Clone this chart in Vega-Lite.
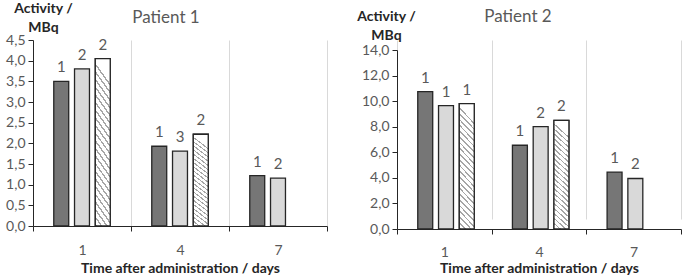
{
  "$schema": "https://vega.github.io/schema/vega-lite/v6.json",
  "padding": {"left": 5, "right": 0, "top": 1, "bottom": 0},
  "background": "white",
  "config": {"view": {"stroke": null}, "font": "Lato"},
  "data": {"values": [
    {"panel": 1, "day": 1, "series": 1, "value": 3.5, "n": "1"},
    {"panel": 1, "day": 1, "series": 2, "value": 3.8, "n": "2"},
    {"panel": 1, "day": 1, "series": 3, "value": 4.05, "n": "2"},
    {"panel": 1, "day": 4, "series": 1, "value": 1.93, "n": "1"},
    {"panel": 1, "day": 4, "series": 2, "value": 1.81, "n": "3"},
    {"panel": 1, "day": 4, "series": 3, "value": 2.22, "n": "2"},
    {"panel": 1, "day": 7, "series": 1, "value": 1.22, "n": "1"},
    {"panel": 1, "day": 7, "series": 2, "value": 1.16, "n": "2"},
    {"panel": 2, "day": 1, "series": 1, "value": 10.75, "n": "1"},
    {"panel": 2, "day": 1, "series": 2, "value": 9.65, "n": "1"},
    {"panel": 2, "day": 1, "series": 3, "value": 9.8, "n": "1"},
    {"panel": 2, "day": 4, "series": 1, "value": 6.55, "n": "1"},
    {"panel": 2, "day": 4, "series": 2, "value": 8.0, "n": "2"},
    {"panel": 2, "day": 4, "series": 3, "value": 8.5, "n": "2"},
    {"panel": 2, "day": 7, "series": 1, "value": 4.45, "n": "1"},
    {"panel": 2, "day": 7, "series": 2, "value": 3.95, "n": "2"}
  ]},
  "spacing": 28,
  "hconcat": [
    {
      "width": 294, "height": 186,
      "title": {"text": "Patient 1", "frame": "group", "offset": -26, "dx": -14, "fontSize": 17, "fontWeight": "normal", "color": "#595959", "font": "Lato"},
      "transform": [{"filter": "datum.panel == 1"}],
      "encoding": {
        "x": {"field": "day", "type": "ordinal", "sort": [1, 4, 7],
          "scale": {"paddingInner": 0, "paddingOuter": 0},
          "axis": {"title": "Time after administration / days", "titleFontWeight": "bold", "titleFontSize": 14, "titleColor": "#262626", "titleFont": "Lato", "titlePadding": 4,
            "labelAngle": 0, "labelFontSize": 14, "labelColor": "#595959", "labelFont": "Lato", "labelPadding": 12,
            "tickBand": "extent", "grid": true, "gridColor": "#d9d9d9", "domainColor": "#262626", "tickColor": "#262626", "tickSize": 5}},
        "xOffset": {"field": "series", "type": "ordinal", "scale": {"domain": [1, 2, 3], "paddingInner": 0.28, "paddingOuter": 1.0}},
        "y": {"field": "value", "type": "quantitative", "scale": {"domain": [0, 4.5]},
          "axis": {"values": [0, 0.5, 1, 1.5, 2, 2.5, 3, 3.5, 4, 4.5], "labelExpr": "replace(format(datum.value, '.1f'), '.', ',')",
            "grid": false, "domainColor": "#262626", "tickColor": "#262626", "tickSize": 5,
            "encode": {"ticks": {"update": {"x": {"value": 5}, "x2": {"value": -5}}}},
            "labelFontSize": 14, "labelColor": "#595959", "labelFont": "Lato", "labelPadding": 3,
            "title": ["Activity /", "MBq"], "titleAngle": 0, "titleAlign": "center", "titleBaseline": "top", "titleX": 10, "titleY": -39,
            "titleFontSize": 14, "titleFontWeight": "bold", "titleColor": "#262626", "titleFont": "Lato", "titleLineHeight": 19}}
      },
      "layer": [
        {"mark": {"type": "bar", "stroke": "#262626", "strokeWidth": 1.3},
         "encoding": {"fill": {"field": "series", "type": "nominal", "scale": {"domain": [1, 2, 3], "range": ["#767676", "#d9d9d9", "#ffffff"]}, "legend": null}}},
        {"transform": [{"filter": "datum.series == 3"}],
         "mark": {"type": "bar", "stroke": "#262626", "strokeWidth": 1.3,
           "fill": {"gradient": "linear", "x1": 0, "y1": 1, "x2": 0.125, "y2": 0, "stops": [
             {"offset": 0, "color": "#a6a6a6"}, {"offset": 0.014, "color": "#a6a6a6"}, {"offset": 0.014, "color": "#ffffff"}, {"offset": 0.045, "color": "#ffffff"},
             {"offset": 0.045, "color": "#a6a6a6"}, {"offset": 0.059, "color": "#a6a6a6"}, {"offset": 0.059, "color": "#ffffff"}, {"offset": 0.09, "color": "#ffffff"},
             {"offset": 0.09, "color": "#a6a6a6"}, {"offset": 0.104, "color": "#a6a6a6"}, {"offset": 0.104, "color": "#ffffff"}, {"offset": 0.135, "color": "#ffffff"},
             {"offset": 0.135, "color": "#a6a6a6"}, {"offset": 0.149, "color": "#a6a6a6"}, {"offset": 0.149, "color": "#ffffff"}, {"offset": 0.18, "color": "#ffffff"},
             {"offset": 0.18, "color": "#a6a6a6"}, {"offset": 0.194, "color": "#a6a6a6"}, {"offset": 0.194, "color": "#ffffff"}, {"offset": 0.225, "color": "#ffffff"},
             {"offset": 0.225, "color": "#a6a6a6"}, {"offset": 0.239, "color": "#a6a6a6"}, {"offset": 0.239, "color": "#ffffff"}, {"offset": 0.27, "color": "#ffffff"},
             {"offset": 0.27, "color": "#a6a6a6"}, {"offset": 0.284, "color": "#a6a6a6"}, {"offset": 0.284, "color": "#ffffff"}, {"offset": 0.315, "color": "#ffffff"},
             {"offset": 0.315, "color": "#a6a6a6"}, {"offset": 0.329, "color": "#a6a6a6"}, {"offset": 0.329, "color": "#ffffff"}, {"offset": 0.36, "color": "#ffffff"},
             {"offset": 0.36, "color": "#a6a6a6"}, {"offset": 0.374, "color": "#a6a6a6"}, {"offset": 0.374, "color": "#ffffff"}, {"offset": 0.405, "color": "#ffffff"},
             {"offset": 0.405, "color": "#a6a6a6"}, {"offset": 0.419, "color": "#a6a6a6"}, {"offset": 0.419, "color": "#ffffff"}, {"offset": 0.45, "color": "#ffffff"},
             {"offset": 0.45, "color": "#a6a6a6"}, {"offset": 0.464, "color": "#a6a6a6"}, {"offset": 0.464, "color": "#ffffff"}, {"offset": 0.495, "color": "#ffffff"},
             {"offset": 0.495, "color": "#a6a6a6"}, {"offset": 0.509, "color": "#a6a6a6"}, {"offset": 0.509, "color": "#ffffff"}, {"offset": 0.54, "color": "#ffffff"},
             {"offset": 0.54, "color": "#a6a6a6"}, {"offset": 0.554, "color": "#a6a6a6"}, {"offset": 0.554, "color": "#ffffff"}, {"offset": 0.585, "color": "#ffffff"},
             {"offset": 0.585, "color": "#a6a6a6"}, {"offset": 0.599, "color": "#a6a6a6"}, {"offset": 0.599, "color": "#ffffff"}, {"offset": 0.63, "color": "#ffffff"},
             {"offset": 0.63, "color": "#a6a6a6"}, {"offset": 0.644, "color": "#a6a6a6"}, {"offset": 0.644, "color": "#ffffff"}, {"offset": 0.675, "color": "#ffffff"},
             {"offset": 0.675, "color": "#a6a6a6"}, {"offset": 0.689, "color": "#a6a6a6"}, {"offset": 0.689, "color": "#ffffff"}, {"offset": 0.72, "color": "#ffffff"},
             {"offset": 0.72, "color": "#a6a6a6"}, {"offset": 0.734, "color": "#a6a6a6"}, {"offset": 0.734, "color": "#ffffff"}, {"offset": 0.765, "color": "#ffffff"},
             {"offset": 0.765, "color": "#a6a6a6"}, {"offset": 0.779, "color": "#a6a6a6"}, {"offset": 0.779, "color": "#ffffff"}, {"offset": 0.81, "color": "#ffffff"},
             {"offset": 0.81, "color": "#a6a6a6"}, {"offset": 0.824, "color": "#a6a6a6"}, {"offset": 0.824, "color": "#ffffff"}, {"offset": 0.855, "color": "#ffffff"},
             {"offset": 0.855, "color": "#a6a6a6"}, {"offset": 0.869, "color": "#a6a6a6"}, {"offset": 0.869, "color": "#ffffff"}, {"offset": 0.9, "color": "#ffffff"},
             {"offset": 0.9, "color": "#a6a6a6"}, {"offset": 0.914, "color": "#a6a6a6"}, {"offset": 0.914, "color": "#ffffff"}, {"offset": 0.945, "color": "#ffffff"},
             {"offset": 0.945, "color": "#a6a6a6"}, {"offset": 0.959, "color": "#a6a6a6"}, {"offset": 0.959, "color": "#ffffff"}, {"offset": 1, "color": "#ffffff"}
           ]}}},
        {"mark": {"type": "text", "baseline": "bottom", "dy": -6, "fontSize": 15, "color": "#595959", "font": "Lato"},
         "encoding": {"text": {"field": "n", "type": "nominal"}}}
      ]
    },
    {
      "width": 284, "height": 189,
      "title": {"text": "Patient 2", "frame": "group", "offset": -17, "dx": -21, "fontSize": 17, "fontWeight": "normal", "color": "#595959", "font": "Lato"},
      "transform": [{"filter": "datum.panel == 2"}],
      "encoding": {
        "x": {"field": "day", "type": "ordinal", "sort": [1, 4, 7],
          "scale": {"paddingInner": 0, "paddingOuter": 0},
          "axis": {"title": "Time after administration / days", "titleFontWeight": "bold", "titleFontSize": 14, "titleColor": "#262626", "titleFont": "Lato", "titlePadding": 2,
            "labelAngle": 0, "labelFontSize": 14, "labelColor": "#595959", "labelFont": "Lato", "labelPadding": 11,
            "tickBand": "extent", "grid": true, "gridColor": "#d9d9d9", "domainColor": "#262626", "tickColor": "#262626", "tickSize": 5}},
        "xOffset": {"field": "series", "type": "ordinal", "scale": {"domain": [1, 2, 3], "paddingInner": 0.28, "paddingOuter": 1.0}},
        "y": {"field": "value", "type": "quantitative", "scale": {"domain": [0, 14], "range": [189, 10]},
          "axis": {"values": [0, 2, 4, 6, 8, 10, 12, 14], "labelExpr": "replace(format(datum.value, '.1f'), '.', ',')",
            "grid": false, "domainColor": "#262626", "tickColor": "#262626", "tickSize": 5,
            "encode": {"ticks": {"update": {"x": {"value": 5}, "x2": {"value": -5}}}},
            "labelFontSize": 14, "labelColor": "#595959", "labelFont": "Lato", "labelPadding": 3,
            "title": ["Activity /", "MBq"], "titleAngle": 0, "titleAlign": "center", "titleBaseline": "top", "titleX": -11, "titleY": -31,
            "titleFontSize": 14, "titleFontWeight": "bold", "titleColor": "#262626", "titleFont": "Lato", "titleLineHeight": 19}}
      },
      "layer": [
        {"mark": {"type": "bar", "stroke": "#262626", "strokeWidth": 1.3},
         "encoding": {"fill": {"field": "series", "type": "nominal", "scale": {"domain": [1, 2, 3], "range": ["#767676", "#d9d9d9", "#ffffff"]}, "legend": null}}},
        {"transform": [{"filter": "datum.series == 3"}],
         "mark": {"type": "bar", "stroke": "#262626", "strokeWidth": 1.3,
           "fill": {"gradient": "linear", "x1": 0, "y1": 1, "x2": 0.125, "y2": 0, "stops": [
             {"offset": 0, "color": "#a6a6a6"}, {"offset": 0.014, "color": "#a6a6a6"}, {"offset": 0.014, "color": "#ffffff"}, {"offset": 0.045, "color": "#ffffff"},
             {"offset": 0.045, "color": "#a6a6a6"}, {"offset": 0.059, "color": "#a6a6a6"}, {"offset": 0.059, "color": "#ffffff"}, {"offset": 0.09, "color": "#ffffff"},
             {"offset": 0.09, "color": "#a6a6a6"}, {"offset": 0.104, "color": "#a6a6a6"}, {"offset": 0.104, "color": "#ffffff"}, {"offset": 0.135, "color": "#ffffff"},
             {"offset": 0.135, "color": "#a6a6a6"}, {"offset": 0.149, "color": "#a6a6a6"}, {"offset": 0.149, "color": "#ffffff"}, {"offset": 0.18, "color": "#ffffff"},
             {"offset": 0.18, "color": "#a6a6a6"}, {"offset": 0.194, "color": "#a6a6a6"}, {"offset": 0.194, "color": "#ffffff"}, {"offset": 0.225, "color": "#ffffff"},
             {"offset": 0.225, "color": "#a6a6a6"}, {"offset": 0.239, "color": "#a6a6a6"}, {"offset": 0.239, "color": "#ffffff"}, {"offset": 0.27, "color": "#ffffff"},
             {"offset": 0.27, "color": "#a6a6a6"}, {"offset": 0.284, "color": "#a6a6a6"}, {"offset": 0.284, "color": "#ffffff"}, {"offset": 0.315, "color": "#ffffff"},
             {"offset": 0.315, "color": "#a6a6a6"}, {"offset": 0.329, "color": "#a6a6a6"}, {"offset": 0.329, "color": "#ffffff"}, {"offset": 0.36, "color": "#ffffff"},
             {"offset": 0.36, "color": "#a6a6a6"}, {"offset": 0.374, "color": "#a6a6a6"}, {"offset": 0.374, "color": "#ffffff"}, {"offset": 0.405, "color": "#ffffff"},
             {"offset": 0.405, "color": "#a6a6a6"}, {"offset": 0.419, "color": "#a6a6a6"}, {"offset": 0.419, "color": "#ffffff"}, {"offset": 0.45, "color": "#ffffff"},
             {"offset": 0.45, "color": "#a6a6a6"}, {"offset": 0.464, "color": "#a6a6a6"}, {"offset": 0.464, "color": "#ffffff"}, {"offset": 0.495, "color": "#ffffff"},
             {"offset": 0.495, "color": "#a6a6a6"}, {"offset": 0.509, "color": "#a6a6a6"}, {"offset": 0.509, "color": "#ffffff"}, {"offset": 0.54, "color": "#ffffff"},
             {"offset": 0.54, "color": "#a6a6a6"}, {"offset": 0.554, "color": "#a6a6a6"}, {"offset": 0.554, "color": "#ffffff"}, {"offset": 0.585, "color": "#ffffff"},
             {"offset": 0.585, "color": "#a6a6a6"}, {"offset": 0.599, "color": "#a6a6a6"}, {"offset": 0.599, "color": "#ffffff"}, {"offset": 0.63, "color": "#ffffff"},
             {"offset": 0.63, "color": "#a6a6a6"}, {"offset": 0.644, "color": "#a6a6a6"}, {"offset": 0.644, "color": "#ffffff"}, {"offset": 0.675, "color": "#ffffff"},
             {"offset": 0.675, "color": "#a6a6a6"}, {"offset": 0.689, "color": "#a6a6a6"}, {"offset": 0.689, "color": "#ffffff"}, {"offset": 0.72, "color": "#ffffff"},
             {"offset": 0.72, "color": "#a6a6a6"}, {"offset": 0.734, "color": "#a6a6a6"}, {"offset": 0.734, "color": "#ffffff"}, {"offset": 0.765, "color": "#ffffff"},
             {"offset": 0.765, "color": "#a6a6a6"}, {"offset": 0.779, "color": "#a6a6a6"}, {"offset": 0.779, "color": "#ffffff"}, {"offset": 0.81, "color": "#ffffff"},
             {"offset": 0.81, "color": "#a6a6a6"}, {"offset": 0.824, "color": "#a6a6a6"}, {"offset": 0.824, "color": "#ffffff"}, {"offset": 0.855, "color": "#ffffff"},
             {"offset": 0.855, "color": "#a6a6a6"}, {"offset": 0.869, "color": "#a6a6a6"}, {"offset": 0.869, "color": "#ffffff"}, {"offset": 0.9, "color": "#ffffff"},
             {"offset": 0.9, "color": "#a6a6a6"}, {"offset": 0.914, "color": "#a6a6a6"}, {"offset": 0.914, "color": "#ffffff"}, {"offset": 0.945, "color": "#ffffff"},
             {"offset": 0.945, "color": "#a6a6a6"}, {"offset": 0.959, "color": "#a6a6a6"}, {"offset": 0.959, "color": "#ffffff"}, {"offset": 1, "color": "#ffffff"}
           ]}}},
        {"mark": {"type": "text", "baseline": "bottom", "dy": -6, "fontSize": 15, "color": "#595959", "font": "Lato"},
         "encoding": {"text": {"field": "n", "type": "nominal"}}}
      ]
    }
  ]
}
